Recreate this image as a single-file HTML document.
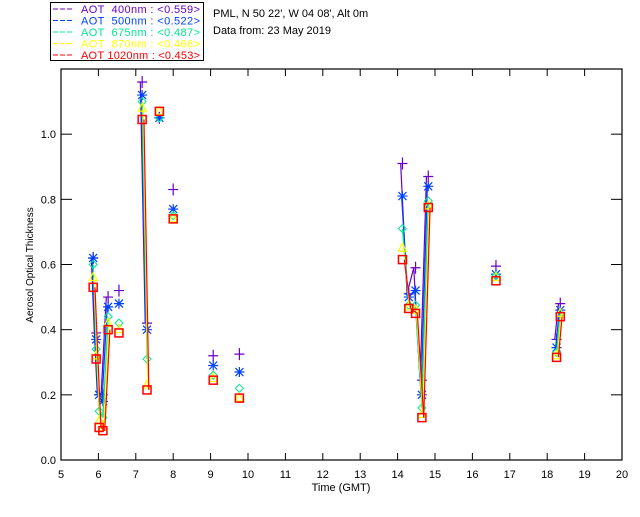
<!DOCTYPE html>
<html><head><meta charset="utf-8"><style>
body{margin:0;background:#fff;width:640px;height:512px;overflow:hidden}
svg{font-family:"Liberation Sans",sans-serif}
</style></head><body>
<svg id="chart" width="640" height="512">
<g>
<rect x="50.5" y="2.5" width="153" height="58" fill="#fff" stroke="#000"/>
</g>
<text x="213" y="17" font-size="11">PML, N 50 22', W 04 08', Alt 0m</text>
<text x="213" y="34" font-size="11">Data from: 23 May 2019</text>
<text x="341" y="491" font-size="11" text-anchor="middle">Time (GMT)</text>
<text transform="translate(33,265) rotate(-90)" font-size="10" text-anchor="middle">Aerosol Optical Thickness</text>
</svg>
<script>
const times=[5.86,5.94,6.02,6.12,6.26,6.55,7.17,7.30,7.63,8.00,9.07,9.77,14.13,14.30,14.48,14.65,14.82,16.63,18.25,18.35];
const aot400=[0.62,0.39,0.20,0.20,0.50,0.52,1.16,0.42,1.05,0.83,0.32,0.325,0.91,0.51,0.59,0.245,0.87,0.595,0.37,0.48];
const aot500=[0.62,0.37,0.20,0.18,0.47,0.48,1.12,0.40,1.05,0.77,0.29,0.27,0.81,0.50,0.52,0.20,0.84,0.57,0.345,0.46];
const aot675=[0.60,0.34,0.15,0.13,0.44,0.42,1.10,0.31,1.05,0.75,0.26,0.22,0.71,0.475,0.475,0.16,0.795,0.565,0.33,0.45];
const aot870=[0.56,0.32,0.12,0.10,0.42,0.40,1.08,0.23,1.07,0.74,0.25,0.19,0.65,0.47,0.46,0.14,0.78,0.56,0.32,0.45];
const aot1020=[0.53,0.31,0.10,0.09,0.40,0.39,1.045,0.215,1.07,0.74,0.245,0.19,0.615,0.465,0.45,0.13,0.775,0.55,0.315,0.44];
const seriesNames=["AOT  400nm : <0.559>","AOT  500nm : <0.522>","AOT  675nm : <0.487>","AOT  870nm : <0.466>","AOT 1020nm : <0.453>"];
const xTicks=[5,6,7,8,9,10,11,12,13,14,15,16,17,18,19,20];
const yTicks=[0,0.2,0.4,0.6,0.8,1.0];
const NS="http://www.w3.org/2000/svg";
const svg=document.getElementById('chart');
const L=61,R=622,T=69,B=460;
const x=t=>L+(t-5)/15*(R-L);
const y=v=>B-v/1.2*(B-T);
function mk(tag,at,parent){const e=document.createElementNS(NS,tag);for(const k in at)e.setAttribute(k,at[k]);(parent||svg).appendChild(e);return e;}
const colors=["#6a00c8","#0040ff","#00e890","#ffff00","#ff0000"];
const series=[aot400,aot500,aot675,aot870,aot1020];
const frame=mk('rect',{x:L,y:T,width:R-L,height:B-T,fill:'none',stroke:'#000','stroke-width':1.2});


xTicks.forEach(t=>{
  const g=mk('g',{});
  
  
  mk('line',{x1:x(t),x2:x(t),y1:B,y2:B-7,stroke:'#000'},g);
  mk('line',{x1:x(t),x2:x(t),y1:T,y2:T+7,stroke:'#000'},g);
  const tx=mk('text',{x:x(t),y:B+18,'font-size':11,'text-anchor':'middle'},g);tx.textContent=t;
});
yTicks.forEach(v=>{
  const g=mk('g',{});
  
  
  mk('line',{x1:L,x2:L+11,y1:y(v),y2:y(v),stroke:'#000'},g);
  mk('line',{x1:R,x2:R-11,y1:y(v),y2:y(v),stroke:'#000'},g);
  const tx=mk('text',{x:L-5,y:y(v)+4,'font-size':11,'text-anchor':'end'},g);tx.textContent=v.toFixed(1);
});
const clip=mk('clipPath',{id:'pc'});mk('rect',{x:L,y:T,width:R-L,height:B-T},clip);
series.forEach((vals,si)=>{
  const g=mk('g',{'clip-path':'url(#pc)'});
  
  
  const c=colors[si],off=(si-2)*0.9;
  for(let i=1;i<times.length;i++){
    if(times[i]-times[i-1]<0.25){
      const ln=mk('line',{x1:x(times[i-1])+off,y1:y(vals[i-1]),x2:x(times[i])+off,y2:y(vals[i]),stroke:c,'stroke-width':1.2},g);
      
      
    }
  }
  times.forEach((t,i)=>{
    const cx=x(t),cy=y(vals[i]);let m;
    if(si==0) m=mk('path',{d:`M${cx-5} ${cy}H${cx+5}M${cx} ${cy-6}V${cy+6}`,stroke:c,'stroke-width':1.2,fill:'none'},g);
    else if(si==1) m=mk('path',{d:`M${cx-5} ${cy}H${cx+5}M${cx} ${cy-5}V${cy+5}M${cx-4} ${cy-4}L${cx+4} ${cy+4}M${cx-4} ${cy+4}L${cx+4} ${cy-4}`,stroke:c,'stroke-width':1.2,fill:'none'},g);
    else if(si==2) m=mk('path',{d:`M${cx} ${cy-4}L${cx+4} ${cy}L${cx} ${cy+4}L${cx-4} ${cy}Z`,stroke:c,'stroke-width':1,fill:'none'},g);
    else if(si==3) m=mk('path',{d:`M${cx} ${cy-5}L${cx+4} ${cy+3}H${cx-4}Z`,stroke:c,'stroke-width':1.2,fill:'none'},g);
    else m=mk('rect',{x:cx-4,y:cy-4,width:8,height:8,stroke:c,'stroke-width':1.5,fill:'none'},g);
    
    
  });
});
seriesNames.forEach((n,i)=>{
  const yy=13+i*11.5;
  const g=mk('g',{});
  
  
  mk('line',{x1:53,x2:74,y1:yy-4,y2:yy-4,stroke:colors[i],'stroke-dasharray':'5,2'},g);
  const tx=mk('text',{x:81,y:yy,'font-size':11,fill:colors[i],textLength:119,lengthAdjust:'spacing'},g);
  tx.setAttribute('style','white-space:pre');
  tx.textContent=n;
});
</script>
</body></html>
